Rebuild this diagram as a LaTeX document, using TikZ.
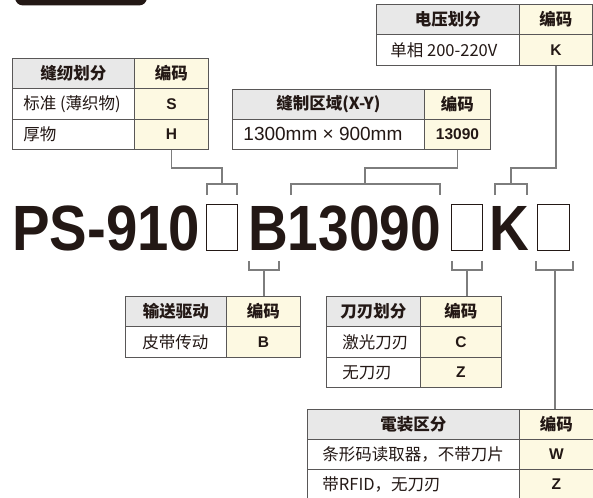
\documentclass[tikz,border=0pt]{standalone}
\usepackage{fontspec}
\setmainfont{Liberation Sans}
\newfontfamily\cjk{Noto Sans CJK SC}
\usetikzlibrary{calc}
\definecolor{ink}{HTML}{231815}
\definecolor{bordc}{HTML}{595757}
\definecolor{hdgray}{HTML}{E8E8E8}
\definecolor{codey}{HTML}{FDF9E2}
\definecolor{linec}{HTML}{7D7D7D}
\newcommand\cellat[7]{\node[cell,#6,minimum width=#4pt,minimum height=#5pt] (#1) at (#2,#3) {#7};}
\newcommand\lt[3]{\makebox[\dimexpr#1pt-#2pt-#2pt\relax][l]{#3}}
\tikzset{
 cell/.style={draw=bordc,line width=0.9pt,inner sep=0pt,anchor=north west,text=ink},
 hd/.style={fill=hdgray,font=\cjk\bfseries\fontsize{16.5}{18}\selectfont},
 hc/.style={fill=codey,font=\cjk\bfseries\fontsize{16.5}{18}\selectfont},
 bd/.style={fill=white,font=\cjk\fontsize{16.5}{18}\selectfont},
 cd/.style={fill=codey,font=\bfseries\fontsize{15.5}{18}\selectfont},
 conn/.style={draw=linec,line width=1.25pt},
 big/.style={font=\bfseries\fontsize{64}{70}\selectfont,text=ink,inner sep=0pt,anchor=base west},
 qbox/.style={draw=ink,line width=1.2pt,inner sep=0pt,anchor=north west,minimum height=46pt}
}
\begin{document}
\begin{tikzpicture}[x=1pt,y=-1pt]
\useasboundingbox (0,0) rectangle (593,497);
% top bar
\fill[ink,rounded corners=8pt] (15,-15) rectangle (147,5.5);
% main code
\node[big,xscale=0.88] (t1) at (12,250) {PS-910};
\node[qbox,minimum width=31pt] (q1) at (206,204) {};
\node[big,xscale=0.86] (t2) at (248,250) {B13090};
\node[qbox,minimum width=31pt] (q2) at (451,204) {};
\node[big,xscale=0.86] (t3) at (489,250) {K};
\node[qbox,minimum width=32pt] (q3) at (537,204) {};
% tables
\cellat{a11}{12}{58}{122}{30}{hd}{缝纫划分}
\cellat{a12}{134}{58}{74}{30}{hc}{编码}
\cellat{a21}{12}{88}{122}{31}{bd}{\lt{122}{11}{标准 (薄织物)}}
\cellat{a22}{134}{88}{74}{31}{cd}{S}
\cellat{a31}{12}{119}{122}{30}{bd}{\lt{122}{11}{厚物}}
\cellat{a32}{134}{119}{74}{30}{cd}{H}
\cellat{b11}{232}{89}{192}{30}{hd}{缝制区域(X-Y)}
\cellat{b12}{424}{89}{66}{30}{hc}{编码}
\cellat{b21}{232}{119}{192}{30}{bd}{\lt{192}{11}{\rmfamily\fontsize{19}{20}\selectfont 1300mm × 900mm}}
\cellat{b22}{424}{119}{66}{30}{cd}{13090}
\cellat{c11}{376}{4}{143}{30}{hd}{电压划分}
\cellat{c12}{519}{4}{73}{30}{hc}{编码}
\cellat{c21}{376}{34}{143}{31}{bd}{\lt{143}{14}{单相 200-220V}}
\cellat{c22}{519}{34}{73}{31}{cd}{K}
\cellat{d11}{125}{296}{101}{30}{hd}{输送驱动}
\cellat{d12}{226}{296}{74}{30}{hc}{编码}
\cellat{d21}{125}{326}{101}{31}{bd}{\lt{101}{17}{皮带传动}}
\cellat{d22}{226}{326}{74}{31}{cd}{B}
\cellat{e11}{326}{296}{94}{30}{hd}{刀刃划分}
\cellat{e12}{420}{296}{81}{30}{hc}{编码}
\cellat{e21}{326}{326}{94}{31}{bd}{\lt{94}{16}{激光刀刃}}
\cellat{e22}{420}{326}{81}{31}{cd}{C}
\cellat{e31}{326}{357}{94}{30}{bd}{\lt{94}{16}{无刀刃}}
\cellat{e32}{420}{357}{81}{30}{cd}{Z}
\cellat{f11}{307}{409}{212}{30}{hd}{電装区分}
\cellat{f12}{519}{409}{74}{30}{hc}{编码}
\cellat{f21}{307}{439}{212}{30}{bd}{\lt{212}{15}{条形码读取器，不带刀片}}
\cellat{f22}{519}{439}{74}{30}{cd}{W}
\cellat{f31}{307}{469}{212}{30}{bd}{\lt{212}{15}{带RFID，无刀刃}}
\cellat{f32}{519}{469}{74}{30}{cd}{Z}
% bracket coordinates
\coordinate (u1a) at (207,195); \coordinate (u1b) at (237,195); \coordinate (u1) at (222,184);
\coordinate (u2a) at (291,195); \coordinate (u2b) at (440,195); \coordinate (u2) at (365,184);
\coordinate (u3a) at (495,195); \coordinate (u3b) at (527,195); \coordinate (u3) at (511,184);
\coordinate (l1a) at (249,261); \coordinate (l1b) at (279,261); \coordinate (l1) at (264,270);
\coordinate (l2a) at (452,261); \coordinate (l2b) at (482,261); \coordinate (l2) at (467,270);
\coordinate (l3a) at (536,261); \coordinate (l3b) at (573,261); \coordinate (l3) at (555,270);
\foreach \b in {u1,u2,u3,l1,l2,l3}{
  \draw[conn] (\b a) -- (\b a |- \b) -- (\b b |- \b) -- (\b b);
}
% connectors
\draw[conn] (a32.south) -- ++(0,18) -| (u1);
\draw[conn] (b22.south) -- ++(0,18) -| (u2);
\draw[conn] (c22.south) -- ++(0,102) -| (u3);
\draw[conn] (l1) -- (l1 |- d12.north);
\draw[conn] (l2) -- (l2 |- e12.north);
\draw[conn] (l3) -- (l3 |- f12.north);
\end{tikzpicture}
\end{document}
